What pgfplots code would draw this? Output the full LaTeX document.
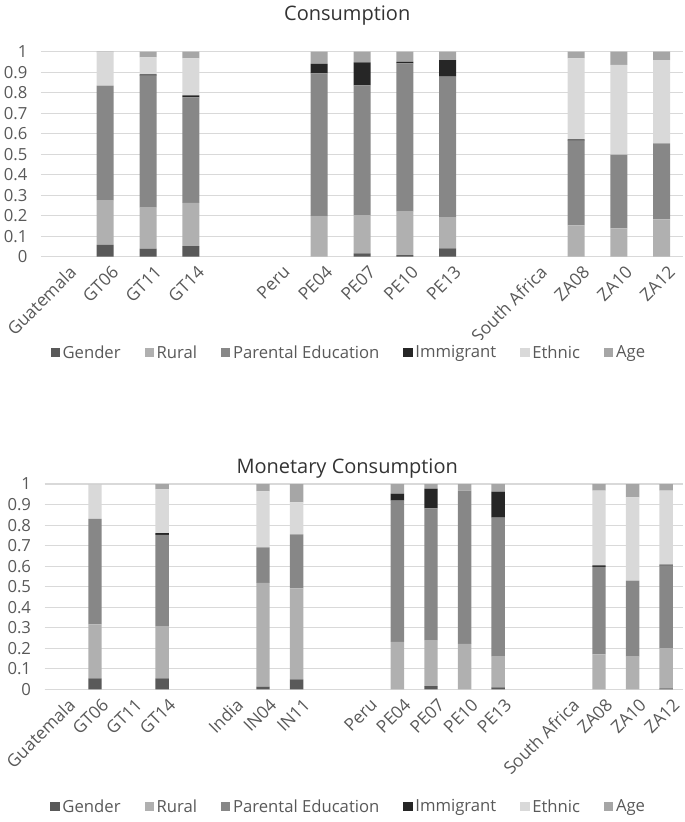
\documentclass[border=0pt]{standalone}
\usepackage{pgfplots}
\pgfplotsset{compat=1.18}
\usepackage{pgfplotstable}
\usepackage{fontspec}
\setmainfont{Open Sans}

\definecolor{cGender}{HTML}{595959}
\definecolor{cRural}{HTML}{B0B0B0}
\definecolor{cParEd}{HTML}{878787}
\definecolor{cImmig}{HTML}{262626}
\definecolor{cEthnic}{HTML}{D9D9D9}
\definecolor{cAge}{HTML}{A6A6A6}
\definecolor{txt}{HTML}{595959}
\definecolor{gridc}{HTML}{D9D9D9}

% consumption: x G R P I E A
\pgfplotstableread{
x  G     R     P     I     E     A
1  0.057 0.219 0.558 0.000 0.163 0.003
2  0.039 0.200 0.644 0.006 0.083 0.028
3  0.052 0.211 0.514 0.010 0.180 0.033
6  0.000 0.198 0.696 0.046 0.000 0.060
7  0.016 0.187 0.633 0.112 0.000 0.052
8  0.008 0.212 0.723 0.007 0.000 0.050
9  0.041 0.149 0.688 0.081 0.000 0.041
12 0.000 0.153 0.413 0.006 0.395 0.033
13 0.000 0.138 0.360 0.000 0.437 0.065
14 0.000 0.182 0.371 0.000 0.406 0.041
}\consdata

% monetary consumption
\pgfplotstableread{
x  G     R     P     I     E     A
1  0.054 0.263 0.513 0.000 0.168 0.002
3  0.054 0.251 0.447 0.009 0.213 0.026
6  0.013 0.506 0.173 0.000 0.272 0.036
7  0.049 0.443 0.263 0.000 0.156 0.089
10 0.000 0.231 0.688 0.034 0.000 0.047
11 0.016 0.224 0.641 0.096 0.000 0.023
12 0.000 0.221 0.747 0.000 0.000 0.032
13 0.010 0.149 0.677 0.127 0.000 0.037
16 0.000 0.170 0.427 0.007 0.364 0.032
17 0.000 0.159 0.370 0.000 0.406 0.065
18 0.005 0.196 0.401 0.005 0.361 0.032
}\moncdata

\pgfplotsset{
  stackstyle/.style={
    scale only axis,
    ybar stacked,
    ymin=0, ymax=1,
    ytick={0,0.1,...,1.01},
    xmajorgrids=false, xminorgrids=false,
    ymajorgrids=true,
    y grid style={draw=gridc, line width=0.8pt},
    axis line style={draw=none},
    axis x line*=bottom,
    x axis line style={draw=gridc, line width=0.8pt},
    major tick length=0pt,
    xtick style={draw=none}, ytick style={draw=none},
    ticklabel style={font=\fontsize{13pt}{15pt}\selectfont, text=txt},
    /pgf/number format/assume math mode=true,
    yticklabel style={inner sep=0pt, xshift=-10pt, font=\fontsize{12.5pt}{15pt}\selectfont},
    xticklabel style={rotate=45, anchor=north east, inner sep=1pt, yshift=-6pt},
    legend columns=-1,
    legend cell align=left,
    legend style={draw=none, font=\fontsize{12.5pt}{15pt}\selectfont, text=txt,
      /tikz/every even column/.append style={column sep=16pt}},
    legend image code/.code={\fill[##1] (0pt,-3.5pt) rectangle (7pt,3.5pt);},
    title style={font=\fontsize{15pt}{18pt}\selectfont, text=black!80},
    every axis plot/.append style={draw=none},
  }
}

\begin{document}
\begin{tikzpicture}
\useasboundingbox (0,0) rectangle (513.75pt,-616.5pt);

\begin{axis}[stackstyle,
    at={(30.75pt,-192.5pt)}, anchor=south west,
    width=481.5pt, height=153.75pt,
    xmin=-0.5, xmax=14.5,
    bar width=12.75pt,
    xtick={0,...,14},
    xticklabels={Guatemala,GT06,GT11,GT14,,Peru,PE04,PE07,PE10,PE13,,South Africa,ZA08,ZA10,ZA12},
    title={Consumption},
    title style={at={(axis description cs:0.477,1)}, anchor=center, yshift=21pt},
    legend style={at={(axis description cs:0.48,0)}, anchor=center, yshift=-72pt},
]
\addplot[fill=cGender] table[x=x,y=G]{\consdata};
\addplot[fill=cRural] table[x=x,y=R]{\consdata};
\addplot[fill=cParEd] table[x=x,y=P]{\consdata};
\addplot[fill=cImmig] table[x=x,y=I]{\consdata};
\addplot[fill=cEthnic] table[x=x,y=E]{\consdata};
\addplot[fill=cAge] table[x=x,y=A]{\consdata};
\legend{Gender,Rural,Parental Education,Immigrant,Ethnic,Age}
\end{axis}

\begin{axis}[stackstyle,
    at={(33.45pt,-517pt)}, anchor=south west,
    width=478.8pt, height=154pt,
    xmin=-0.5, xmax=18.5,
    bar width=10.1pt,
    xtick={0,...,18},
    xticklabels={Guatemala,GT06,GT11,GT14,,India,IN04,IN11,,Peru,PE04,PE07,PE10,PE13,,South Africa,ZA08,ZA10,ZA12},
    title={Monetary Consumption},
    title style={at={(axis description cs:0.474,1)}, anchor=center, yshift=5.5pt},
    legend style={at={(axis description cs:0.477,0)}, anchor=center, yshift=-88pt},
]
\addplot[fill=cGender] table[x=x,y=G]{\moncdata};
\addplot[fill=cRural] table[x=x,y=R]{\moncdata};
\addplot[fill=cParEd] table[x=x,y=P]{\moncdata};
\addplot[fill=cImmig] table[x=x,y=I]{\moncdata};
\addplot[fill=cEthnic] table[x=x,y=E]{\moncdata};
\addplot[fill=cAge] table[x=x,y=A]{\moncdata};
\legend{Gender,Rural,Parental Education,Immigrant,Ethnic,Age}
\end{axis}
\end{tikzpicture}
\end{document}
